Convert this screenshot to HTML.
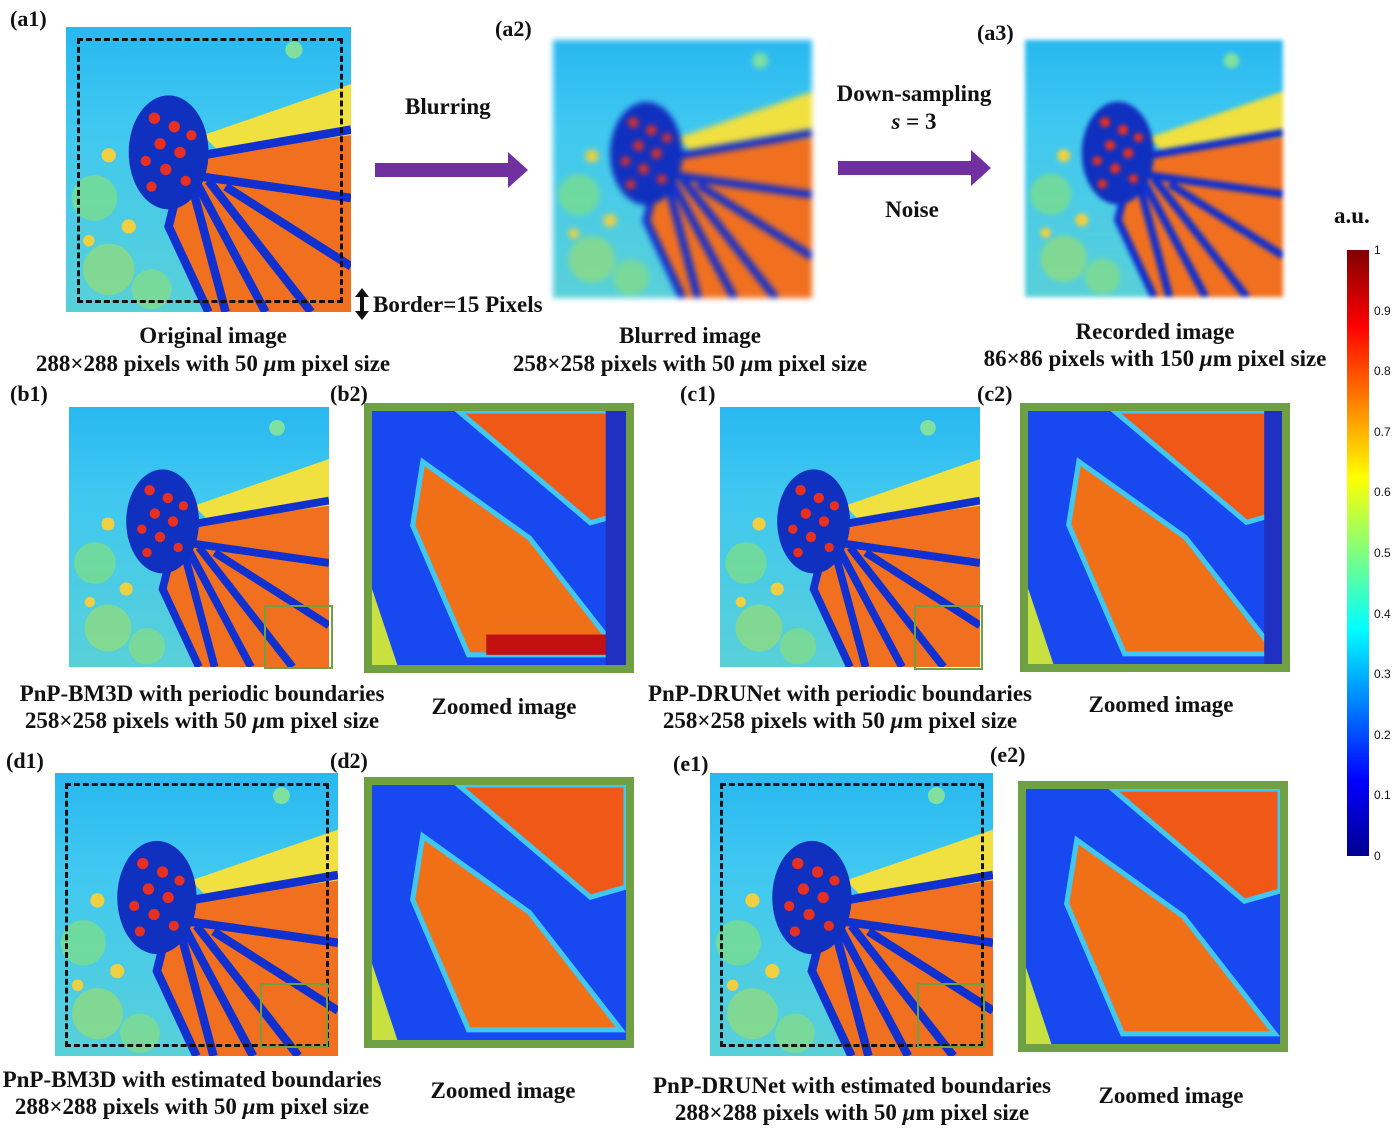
<!DOCTYPE html>
<html><head><meta charset="utf-8"><style>
body{margin:0;background:#fff;width:1400px;height:1128px;position:relative;overflow:hidden;font-family:"Liberation Serif",serif;font-weight:bold;color:#111}
.t{position:absolute;font-size:23px;white-space:nowrap;transform:translateX(-50%);line-height:1}
.l{position:absolute;font-size:22px;line-height:1}
svg.im{position:absolute}
.cb{position:absolute;font-family:"Liberation Sans",sans-serif;font-weight:normal;font-size:12px}
</style></head><body>
<svg width="0" height="0" style="position:absolute">
<defs>
<linearGradient id="bg" x1="0" y1="0" x2="0" y2="1"><stop offset="0" stop-color="#28b8f0"/><stop offset="0.35" stop-color="#40c8f0"/><stop offset="1" stop-color="#58d0d8"/></linearGradient>
<linearGradient id="jet" x1="0" y1="1" x2="0" y2="0"><stop offset="0" stop-color="#00008f"/><stop offset="0.125" stop-color="#0000ff"/><stop offset="0.375" stop-color="#00ffff"/><stop offset="0.625" stop-color="#ffff00"/><stop offset="0.875" stop-color="#ff0000"/><stop offset="1" stop-color="#800000"/></linearGradient>
<g id="bfly">
<rect width="100" height="100" fill="url(#bg)"/>
<circle cx="10" cy="60" r="8" fill="#80e080" opacity=".7"/><circle cx="15" cy="85" r="9" fill="#a0e060" opacity=".6"/><circle cx="30" cy="92" r="7" fill="#90e070" opacity=".6"/>
<polygon points="48,38 100,20 100,45 56,46" fill="#f0e040"/>
<polygon points="42,46 100,38 100,100 50,100 36,70" fill="#f07020"/>
<g stroke="#1030d0" stroke-width="3" fill="none">
<path d="M42,46 L100,36"/><path d="M44,52 L100,60"/><path d="M44,55 L56,100"/><path d="M46,55 L70,100"/><path d="M50,54 L86,100"/><path d="M56,56 L100,84"/><path d="M42,46 L36,70 L50,100"/>
</g>
<ellipse cx="36" cy="44" rx="14" ry="20" fill="#1030c0"/>
<g fill="#e83020"><circle cx="31" cy="32" r="2"/><circle cx="38" cy="35" r="2"/><circle cx="33" cy="41" r="2"/><circle cx="40" cy="44" r="2"/><circle cx="35" cy="50" r="2"/><circle cx="42" cy="54" r="1.8"/><circle cx="28" cy="47" r="1.8"/><circle cx="44" cy="38" r="1.8"/><circle cx="30" cy="56" r="1.8"/></g>
<g fill="#f0d040"><circle cx="15" cy="45" r="2.5"/><circle cx="22" cy="70" r="2.5"/><circle cx="8" cy="75" r="2"/><circle cx="80" cy="8" r="3" fill="#80e0a0"/></g>
</g>
<g id="zoom">
<rect width="100" height="100" fill="#1848f0"/>
<polygon points="34,0 100,0 100,40 86,44" fill="#f05818" stroke="#40c8f0" stroke-width="2"/>
<polygon points="20,20 62,50 98,96 38,96 16,45" fill="#f07018" stroke="#40c8f0" stroke-width="2"/>
<polygon points="0,70 10,100 0,100" fill="#c8e040"/>
</g>
</defs></svg>

<div class="l" style="left:10px;top:8px">(a1)</div>
<svg class="im" style="left:66px;top:27px" width="285" height="285" viewBox="0 0 100 100" preserveAspectRatio="none"><use href="#bfly"/></svg>
<div style="position:absolute;left:77px;top:38px;width:260px;height:259px;border:3px dashed #111"></div>
<div class="l" style="left:405px;top:95px;font-size:23px">Blurring</div>
<svg class="im" style="left:375px;top:152px" width="155" height="36"><rect x="0" y="11" width="133" height="14" fill="#7030a0"/><polygon points="133,0 153,18 133,36" fill="#7030a0"/></svg>
<div class="l" style="left:495px;top:18px">(a2)</div>
<svg class="im" style="left:553px;top:40px;filter:blur(3px)" width="259" height="258" viewBox="0 0 100 100" preserveAspectRatio="none"><use href="#bfly"/></svg>
<div class="t" style="left:914px;top:82px">Down-sampling</div>
<div class="t" style="left:914px;top:110px"><i>s</i> = 3</div>
<svg class="im" style="left:838px;top:150px" width="155" height="36"><rect x="0" y="11" width="133" height="14" fill="#7030a0"/><polygon points="133,0 153,18 133,36" fill="#7030a0"/></svg>
<div class="t" style="left:912px;top:198px">Noise</div>
<div class="l" style="left:977px;top:22px">(a3)</div>
<svg class="im" style="left:1025px;top:40px;filter:blur(2px)" width="258" height="257" viewBox="0 0 100 100" preserveAspectRatio="none"><use href="#bfly"/></svg>
<svg class="im" style="left:354px;top:288px" width="16" height="32"><polygon points="8,0 15,9 10,9 10,23 15,23 8,32 1,23 6,23 6,9 1,9" fill="#111"/></svg>
<div class="l" style="left:373px;top:293px;font-size:23px">Border=15 Pixels</div>
<div class="t" style="left:213px;top:324px">Original image</div>
<div class="t" style="left:213px;top:352px">288×288 pixels with 50 <i>μ</i>m pixel size</div>
<div class="t" style="left:690px;top:324px">Blurred image</div>
<div class="t" style="left:690px;top:352px">258×258 pixels with 50 <i>μ</i>m pixel size</div>
<div class="t" style="left:1155px;top:320px">Recorded image</div>
<div class="t" style="left:1155px;top:347px">86×86 pixels with 150 <i>μ</i>m pixel size</div>

<div class="l" style="left:10px;top:383px">(b1)</div>
<svg class="im" style="left:69px;top:407px" width="260" height="260" viewBox="0 0 100 100" preserveAspectRatio="none"><use href="#bfly"/></svg>
<div style="position:absolute;left:264px;top:605px;width:65px;height:60px;border:2px solid #70a040"></div>
<div class="l" style="left:330px;top:383px">(b2)</div>
<svg class="im" style="left:364px;top:403px;border:8px solid #70a044" width="254" height="254" viewBox="0 0 100 100" preserveAspectRatio="none"><use href="#zoom"/><rect x="45" y="88" width="55" height="8" fill="#c01010"/><rect x="92" y="0" width="8" height="100" fill="#2030c0"/></svg>
<div class="t" style="left:202px;top:682px">PnP-BM3D with periodic boundaries</div>
<div class="t" style="left:202px;top:709px">258×258 pixels with 50 <i>μ</i>m pixel size</div>
<div class="t" style="left:504px;top:695px">Zoomed image</div>

<div class="l" style="left:680px;top:383px">(c1)</div>
<svg class="im" style="left:720px;top:407px" width="260" height="260" viewBox="0 0 100 100" preserveAspectRatio="none"><use href="#bfly"/></svg>
<div style="position:absolute;left:914px;top:605px;width:65px;height:61px;border:2px solid #70a040"></div>
<div class="l" style="left:977px;top:383px">(c2)</div>
<svg class="im" style="left:1020px;top:403px;border:8px solid #70a044" width="254" height="253" viewBox="0 0 100 100" preserveAspectRatio="none"><use href="#zoom"/><rect x="93" y="0" width="7" height="100" fill="#2030c0"/></svg>
<div class="t" style="left:840px;top:682px">PnP-DRUNet with periodic boundaries</div>
<div class="t" style="left:840px;top:709px">258×258 pixels with 50 <i>μ</i>m pixel size</div>
<div class="t" style="left:1161px;top:693px">Zoomed image</div>

<div class="l" style="left:6px;top:750px">(d1)</div>
<svg class="im" style="left:55px;top:773px" width="283" height="283" viewBox="0 0 100 100" preserveAspectRatio="none"><use href="#bfly"/></svg>
<div style="position:absolute;left:65px;top:783px;width:258px;height:258px;border:3px dashed #111"></div>
<div style="position:absolute;left:260px;top:983px;width:64px;height:61px;border:2px solid #70a040"></div>
<div class="l" style="left:330px;top:750px">(d2)</div>
<svg class="im" style="left:364px;top:777px;border:8px solid #70a044" width="254" height="255" viewBox="0 0 100 100" preserveAspectRatio="none"><use href="#zoom"/></svg>
<div class="t" style="left:192px;top:1068px">PnP-BM3D with estimated boundaries</div>
<div class="t" style="left:192px;top:1095px">288×288 pixels with 50 <i>μ</i>m pixel size</div>
<div class="t" style="left:503px;top:1079px">Zoomed image</div>

<div class="l" style="left:673px;top:753px">(e1)</div>
<svg class="im" style="left:710px;top:773px" width="283" height="283" viewBox="0 0 100 100" preserveAspectRatio="none"><use href="#bfly"/></svg>
<div style="position:absolute;left:720px;top:783px;width:258px;height:258px;border:3px dashed #111"></div>
<div style="position:absolute;left:917px;top:983px;width:64px;height:61px;border:2px solid #70a040"></div>
<div class="l" style="left:990px;top:744px">(e2)</div>
<svg class="im" style="left:1018px;top:781px;border:8px solid #70a044" width="254" height="255" viewBox="0 0 100 100" preserveAspectRatio="none"><use href="#zoom"/></svg>
<div class="t" style="left:852px;top:1074px">PnP-DRUNet with estimated boundaries</div>
<div class="t" style="left:852px;top:1101px">288×288 pixels with 50 <i>μ</i>m pixel size</div>
<div class="t" style="left:1171px;top:1084px">Zoomed image</div>

<div class="l" style="left:1334px;top:204px;font-size:23px">a.u.</div>
<svg class="im" style="left:1347px;top:250px" width="22" height="606"><rect width="22" height="606" fill="url(#jet)"/></svg>
<div id="cbticks"></div>
<script>
const tickValues=[0,0.1,0.2,0.3,0.4,0.5,0.6,0.7,0.8,0.9,1];
const cbTop=250, cbBottom=856;
const yScale=v=>cbBottom-(cbBottom-cbTop)*v;
const host=document.getElementById('cbticks');
tickValues.forEach(v=>{
  const d=document.createElement('div');
  d.className='cb';
  
  
  d.style.left='1374px';
  d.style.top=(yScale(v)-7)+'px';
  d.textContent=String(v);
  host.appendChild(d);
});
</script>
</body></html>
